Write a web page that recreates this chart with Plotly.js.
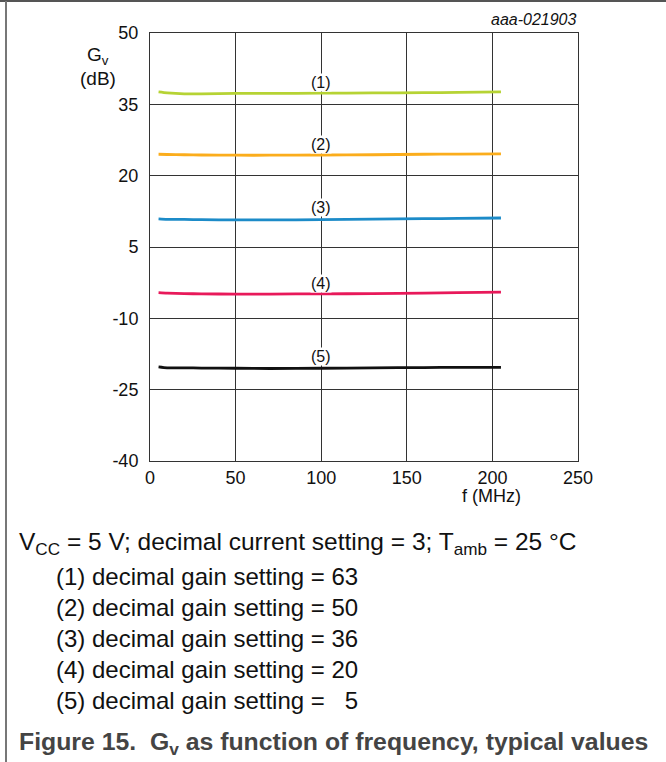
<!DOCTYPE html>
<html>
<head>
<meta charset="utf-8">
<script src="https://cdn.plot.ly/plotly-3.0.1.min.js"></script>
<style>html,body{margin:0;padding:0;background:#fff;}#chart{width:666px;height:762px;}</style>
</head>
<body>
<div id="chart"></div>
<script>
// ---- data ----
const freq = [5, 10, 20, 30, 50, 70, 100, 130, 160, 180, 205];
const gain63 = [37.6, 37.4, 37.2, 37.2, 37.3, 37.3, 37.35, 37.4, 37.45, 37.5, 37.6];
const gain50 = [24.5, 24.45, 24.4, 24.35, 24.3, 24.3, 24.35, 24.4, 24.5, 24.55, 24.6];
const gain36 = [10.9, 10.8, 10.8, 10.75, 10.7, 10.7, 10.75, 10.85, 10.95, 11.0, 11.1];
const gain20 = [-4.6, -4.7, -4.8, -4.85, -4.9, -4.9, -4.85, -4.8, -4.7, -4.6, -4.5];
const gain5 = [-20.2, -20.4, -20.4, -20.45, -20.5, -20.55, -20.5, -20.4, -20.35, -20.3, -20.3];
const curveLabels = ["(1)", "(2)", "(3)", "(4)", "(5)"];
const labelX = 100;
const labelY = [39.5, 26.6, 13.3, -2.7, -18.1];
const xTicks = [0, 50, 100, 150, 200, 250];
const yTicks = [-40, -25, -10, 5, 20, 35, 50];
const noteLines = [
  "(1) decimal gain setting = 63",
  "(2) decimal gain setting = 50",
  "(3) decimal gain setting = 36",
  "(4) decimal gain setting = 20",
  "(5) decimal gain setting = \u00a0\u00a05"
];

// ---- layout helpers ----
const W = 666, Hh = 762;
const M = {l: 150, r: 88, t: 33, b: 301};
const L = M.l, R = W - M.r, T = M.t, B = Hh - M.b;
const px = x => (x - L) / (R - L);
const py = y => (B - y) / (B - T);
const FONT = '"Liberation Sans", Arial, sans-serif';

const series = [gain63, gain50, gain36, gain20, gain5];
const colors = ['#b6d334', '#fbad1c', '#1c8bc8', '#e8195a', '#111111'];
const traces = series.map((ys, i) => ({
  x: freq, y: ys, type: 'scatter', mode: 'lines',
  line: {color: colors[i], width: 2.8, shape: 'spline', smoothing: 0.6},
  hoverinfo: 'skip', showlegend: false
}));

const annotations = [];
curveLabels.forEach((t, i) => annotations.push({
  x: labelX, y: labelY[i], xref: 'x', yref: 'y', text: t, showarrow: false,
  font: {family: FONT, size: 16, color: '#111'}, bgcolor: '#ffffff', borderpad: 0
}));
annotations.push({xref: 'paper', yref: 'paper', x: px(98), y: py(56), text: 'G<sub>v</sub>',
  showarrow: false, xanchor: 'center', yanchor: 'middle', font: {family: FONT, size: 19, color: '#111'}});
annotations.push({xref: 'paper', yref: 'paper', x: px(98), y: py(78), text: '(dB)',
  showarrow: false, xanchor: 'center', yanchor: 'middle', font: {family: FONT, size: 19, color: '#111'}});
annotations.push({xref: 'paper', yref: 'paper', x: px(491), y: py(496), text: 'f (MHz)',
  showarrow: false, xanchor: 'center', yanchor: 'middle', font: {family: FONT, size: 18, color: '#111'}});
annotations.push({xref: 'paper', yref: 'paper', x: px(579), y: py(20), text: '<i>aaa-021903</i>',
  showarrow: false, xanchor: 'right', yanchor: 'middle', font: {family: FONT, size: 16, color: '#111'}});
annotations.push({xref: 'paper', yref: 'paper', x: px(17), y: py(543),
  text: 'V<sub>CC</sub> = 5 V; decimal current setting = 3; T<sub>amb</sub> = 25 °C',
  showarrow: false, xanchor: 'left', yanchor: 'middle', font: {family: FONT, size: 24.5, color: '#111'}});
noteLines.forEach((t, i) => annotations.push({xref: 'paper', yref: 'paper', x: px(54), y: py(576 + i * 31),
  text: t, showarrow: false, xanchor: 'left', yanchor: 'middle', font: {family: FONT, size: 24, color: '#111'}}));
annotations.push({xref: 'paper', yref: 'paper', x: px(17), y: py(743),
  text: '<b>Figure 15.  G<sub>v</sub> as function of frequency, typical values</b>',
  showarrow: false, xanchor: 'left', yanchor: 'middle', font: {family: FONT, size: 24.8, color: '#444'}});

const shapes = [
  {type: 'line', xref: 'paper', yref: 'paper', x0: px(0), x1: px(666), y0: py(1), y1: py(1), line: {color: '#555', width: 2}},
  {type: 'line', xref: 'paper', yref: 'paper', x0: px(6), x1: px(6), y0: py(1), y1: py(762), line: {color: '#777', width: 2}}
];

const axisCommon = {
  showgrid: true, gridcolor: '#333', gridwidth: 1, zeroline: false,
  showline: true, linecolor: '#333', linewidth: 1, mirror: true,
  ticks: '', tickfont: {family: FONT, size: 18, color: '#111'}, fixedrange: true
};

const layout = {
  width: W, height: Hh, margin: M, paper_bgcolor: '#fff', plot_bgcolor: '#fff',
  xaxis: Object.assign({}, axisCommon, {range: [0, 250], tickvals: xTicks, ticktext: xTicks.map(String), ticklabelstandoff: 0}),
  yaxis: Object.assign({}, axisCommon, {range: [-40, 50], tickvals: yTicks, ticktext: yTicks.map(String), ticklabelstandoff: 7}),
  annotations: annotations, shapes: shapes, showlegend: false
};

Plotly.newPlot('chart', traces, layout, {staticPlot: true, displayModeBar: false});
</script>
</body>
</html>
